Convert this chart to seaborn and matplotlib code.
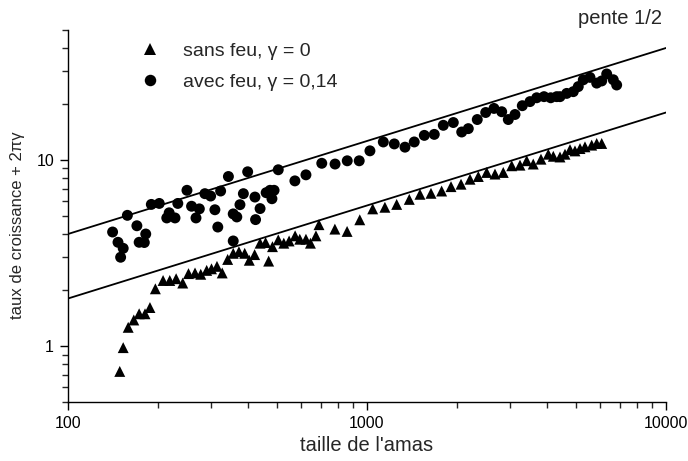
import numpy as np
import pandas as pd
import matplotlib
matplotlib.use('Agg')
import matplotlib.pyplot as plt
import matplotlib.ticker as mticker
import seaborn as sns

sns.set_theme(style='ticks')
plt.rcParams['font.family'] = ['Liberation Sans', 'DejaVu Sans']

# sans feu, gamma = 0 (triangles)
x_sans = [149, 153, 159, 166, 173, 181, 188, 196, 208, 219, 230, 242, 253, 266, 278,
          291, 302, 315, 328, 342, 357, 373, 390, 404, 421, 439, 458, 469, 483, 505,
          527, 549, 575, 596, 625, 647, 675, 691, 781, 858, 946, 1045, 1148, 1257,
          1385, 1504, 1637, 1777, 1910, 2063, 2211, 2357, 2514, 2680, 2856, 3048,
          3249, 3421, 3598, 3819, 4040, 4199, 4421, 4595, 4775, 4962, 5158, 5359,
          5643, 5865, 6096]
y_sans = [0.73, 0.98, 1.26, 1.38, 1.49, 1.49, 1.61, 2.03, 2.25, 2.25, 2.3, 2.18, 2.45,
          2.47, 2.43, 2.55, 2.6, 2.68, 2.47, 2.92, 3.15, 3.21, 3.15, 2.89, 3.1, 3.57,
          3.6, 2.86, 3.42, 3.72, 3.57, 3.67, 3.91, 3.75, 3.75, 3.57, 3.91, 4.49, 4.25,
          4.13, 4.77, 5.46, 5.57, 5.77, 6.14, 6.54, 6.62, 6.81, 7.19, 7.41, 7.88, 8.15,
          8.57, 8.4, 8.57, 9.31, 9.38, 9.91, 9.51, 10.1, 10.74, 10.47, 10.38, 10.74,
          11.37, 11.19, 11.52, 11.77, 12.02, 12.27, 12.27]

# avec feu, gamma = 0,14 (cercles)
x_avec = [141, 147, 150, 153, 158, 170, 173, 180, 182, 190, 202, 214, 218, 228, 233,
          250, 259, 268, 275, 287, 300, 310, 317, 324, 344, 357, 357, 367, 376, 386,
          399, 422, 424, 439, 460, 474, 481, 489, 505, 574, 625, 706, 782, 859, 942,
          1023, 1134, 1234, 1340, 1439, 1555, 1679, 1800, 1944, 2074, 2182, 2338,
          2495, 2659, 2822, 2969, 3126, 3307, 3509, 3695, 3909, 4116, 4310, 4421,
          4655, 4898, 5089, 5289, 5569, 5865, 6096, 6335, 6664, 6840]
y_avec = [4.10, 3.61, 3.0, 3.35, 5.04, 4.43, 3.61, 3.6, 4.0, 5.77, 5.84, 4.88, 5.2,
          4.88, 5.84, 6.87, 5.64, 4.88, 5.46, 6.59, 6.4, 5.4, 4.36, 6.81, 8.15, 3.67,
          5.13, 4.94, 5.75, 6.59, 8.64, 6.32, 4.78, 5.48, 6.67, 6.87, 6.19, 6.87, 8.86,
          7.72, 8.32, 9.6, 9.51, 9.9, 9.9, 11.2, 12.5, 12.2, 11.72, 12.5, 13.56, 13.73,
          15.36, 15.9, 14.14, 14.74, 16.5, 18.0, 18.93, 18.17, 16.5, 17.56, 19.58,
          20.6, 21.6, 21.9, 21.6, 21.9, 21.9, 22.8, 23.3, 24.8, 26.98, 27.8, 25.9,
          26.6, 29.0, 27.0, 25.3]

# droites de pente 1/2
x_fit = [100, 10000]
y_fit_haut = [4.0, 40.0]
y_fit_bas = [1.8, 18.0]

labels = ['sans feu, \u03b3 = 0', 'avec feu, \u03b3 = 0,14']

df = pd.concat([
    pd.DataFrame({'x': x_sans, 'y': y_sans, 'serie': labels[0]}),
    pd.DataFrame({'x': x_avec, 'y': y_avec, 'serie': labels[1]}),
])

fig = plt.figure(figsize=(6.88, 4.61), dpi=100)
ax = fig.add_axes([0.0988, 0.128, 0.8692, 0.807])

sns.lineplot(x=x_fit, y=y_fit_haut, ax=ax, color='black', lw=1.3)
sns.lineplot(x=x_fit, y=y_fit_bas, ax=ax, color='black', lw=1.3)

sns.scatterplot(data=df, x='x', y='y', style='serie', hue='serie',
                markers={labels[0]: '^', labels[1]: 'o'},
                palette={labels[0]: 'black', labels[1]: 'black'},
                s=62, edgecolor='black', linewidth=0, ax=ax)

ax.set_xscale('log')
ax.set_yscale('log')
ax.set_xlim(100, 10000)
ax.set_ylim(0.5, 50)

ax.xaxis.set_major_formatter(mticker.FuncFormatter(lambda v, p: f'{v:g}'))
ax.yaxis.set_major_formatter(mticker.FuncFormatter(lambda v, p: f'{v:g}'))
ax.xaxis.set_minor_formatter(mticker.NullFormatter())
ax.yaxis.set_minor_formatter(mticker.NullFormatter())
ax.tick_params(which='major', direction='out', length=6, width=1, labelsize=11.5,
               colors='black', pad=4)
ax.tick_params(which='minor', direction='out', length=4, width=1)

sns.despine(ax=ax)
for s in ['left', 'bottom']:
    ax.spines[s].set_color('black')
    ax.spines[s].set_linewidth(1)

ax.set_xlabel("taille de l'amas", fontsize=14.5, va='center')
ax.xaxis.set_label_coords(0.5, -0.118)
ax.set_ylabel('taux de croissance + 2\u03c0\u03b3', fontsize=12, va='center')
ax.yaxis.set_label_coords(-0.084, 0.476)

ax.text(0.993, 1.03, 'pente 1/2', transform=ax.transAxes, ha='right', va='center', fontsize=14.5)

leg = ax.legend(loc='upper left', bbox_to_anchor=(0.075, 1.013), frameon=False,
                fontsize=14, handletextpad=0.7, labelspacing=0.66, markerscale=1.05)

fig.savefig('out.png', dpi=100)
